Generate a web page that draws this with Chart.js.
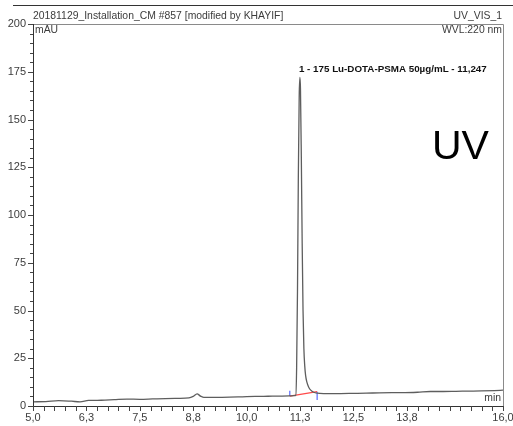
<!DOCTYPE html>
<html>
<head>
<meta charset="utf-8">
<script src="https://cdn.jsdelivr.net/npm/chart.js@4.4.1/dist/chart.umd.min.js"></script>
<style>
  html, body { margin: 0; padding: 0; background: #fff; }
  #wrap { width: 513px; height: 426px; position: relative; }
</style>
</head>
<body>
<div id="wrap"><canvas id="chrom"></canvas></div>
<script>
// Chromatogram trace: retention time (min) vs absorbance (mAU)
const times = [
  5.0, 5.3, 5.6, 5.9, 6.1, 6.3, 6.6, 6.9, 7.2, 7.5, 7.8, 8.1, 8.4, 8.65, 8.75, 8.84, 8.92, 9.0,
  9.3, 9.6, 9.9, 10.2, 10.5, 10.8, 11.0, 11.1, 11.15, 11.17, 11.19, 11.21, 11.23, 11.247, 11.26,
  11.28, 11.30, 11.32, 11.34, 11.36, 11.38, 11.41, 11.45, 11.50, 11.57, 11.65, 11.8, 12.0, 12.2,
  12.5, 12.8, 13.1, 13.4, 13.7, 14.0, 14.3, 14.6, 14.9, 15.2, 15.5, 15.8, 16.0
];
const signal = [
  2.2, 2.3, 2.8, 2.5, 2.2, 2.9, 3.0, 3.3, 3.6, 3.5, 3.7, 3.9, 4.0, 4.2, 5.0, 6.3, 5.2, 4.5,
  4.5, 4.6, 4.8, 5.0, 5.1, 5.2, 5.3, 5.4, 5.6, 20, 60, 120, 162, 172, 166,
  130, 85, 50, 30, 21, 16, 12.5, 10, 8.3, 7.2, 6.7, 6.5, 6.5, 6.5,
  6.6, 6.7, 6.9, 7.0, 7.0, 7.2, 7.6, 7.6, 7.7, 7.8, 7.9, 8.1, 8.3
];

// Peak annotation
const peakName = '1 - 175 Lu-DOTA-PSMA 50µg/mL';
const peakTime = 11.247;
const peakHeight = 172;

// Integration baseline and its start / end markers
const baseTimes = [11.01, 11.65];
const baseValues = [5.2, 7.5];
const startMark = [8.0, 5.2];
const endMark = [7.5, 3.1];

// Axis ticks
const xMin = 5.0, xMax = 16.0, yMin = 0, yMax = 200;
const xLabelValues = [5.0, 6.25, 7.5, 8.75, 10.0, 11.25, 12.5, 13.75, 16.0];
const xTickLabels = ['5,0', '6,3', '7,5', '8,8', '10,0', '11,3', '12,5', '13,8', '16,0'];
const xMinorStep = 0.25;
const yTickValues = [0, 25, 50, 75, 100, 125, 150, 175, 200];
const yMinorStep = 5;

const FONT = '"Liberation Sans", Arial, sans-serif';
const TEXT = '#3c3c3c';

const toXY = (xs, ys) => xs.map((x, i) => ({ x: x, y: ys[i] }));

const overlay = {
  id: 'overlay',
  afterDatasetsDraw(chart) {
    const { ctx, chartArea: a, scales: { x, y } } = chart;
    ctx.save();
    // frame
    ctx.strokeStyle = '#8a8a8a';
    ctx.lineWidth = 1;
    ctx.beginPath();
    ctx.moveTo(a.left, a.top + 0.5); ctx.lineTo(a.right + 0.5, a.top + 0.5);
    ctx.lineTo(a.right + 0.5, a.bottom);
    ctx.stroke();
    ctx.strokeStyle = '#333';
    ctx.beginPath();
    ctx.moveTo(a.left + 0.5, a.top); ctx.lineTo(a.left + 0.5, a.bottom + 0.5);
    ctx.lineTo(a.right + 1, a.bottom + 0.5);
    ctx.stroke();
    // header rule
    ctx.strokeStyle = '#333';
    ctx.beginPath();
    ctx.moveTo(13, 5.5); ctx.lineTo(513, 5.5);
    ctx.stroke();

    // tick marks
    ctx.strokeStyle = '#444';
    ctx.beginPath();
    for (let v = xMin; v <= xMax + 1e-9; v += xMinorStep) {
      const px = Math.round(x.getPixelForValue(v)) + 0.5;
      ctx.moveTo(px, a.bottom); ctx.lineTo(px, a.bottom + 5);
    }
    for (let v = yMin; v <= yMax + 1e-9; v += yMinorStep) {
      const py = Math.round(y.getPixelForValue(v)) + 0.5;
      const major = yTickValues.includes(v);
      ctx.moveTo(a.left, py); ctx.lineTo(a.left - (major ? 5 : 3), py);
    }
    ctx.stroke();

    // header texts
    ctx.fillStyle = TEXT;
    ctx.font = '10.4px ' + FONT;
    ctx.textBaseline = 'middle';
    ctx.textAlign = 'left';
    ctx.fillText('20181129_Installation_CM #857 [modified by KHAYIF]', a.left, 16.5);
    ctx.fillText('mAU', a.left + 2, 30.5);
    ctx.textAlign = 'right';
    ctx.fillText('UV_VIS_1', a.right - 1, 16.5);
    ctx.fillText('WVL:220 nm', a.right - 1, 30.5);
    ctx.fillText('min', a.right - 2, a.bottom - 7.5);

    // peak label
    ctx.fillStyle = '#111';
    ctx.font = 'bold 9.8px ' + FONT;
    ctx.textAlign = 'left';
    const label = peakName + ' - ' + peakTime.toFixed(3).replace('.', ',');
    ctx.fillText(label, x.getPixelForValue(peakTime) - 1, y.getPixelForValue(peakHeight) - 8);

    // large channel caption
    ctx.fillStyle = '#000';
    ctx.font = '41px ' + FONT;
    ctx.textAlign = 'left';
    ctx.textBaseline = 'alphabetic';
    ctx.fillText('UV', 432, 158.5);
    ctx.restore();
  }
};

const noPad = s => { s.paddingLeft = 0; s.paddingRight = 0; s.paddingTop = 0; s.paddingBottom = 0; };

new Chart(document.getElementById('chrom'), {
  type: 'line',
  data: {
    datasets: [
      {
        data: toXY(times, signal),
        borderColor: '#5e5e5e',
        borderWidth: 1.3,
        pointRadius: 0,
        cubicInterpolationMode: 'monotone'
      },
      {
        data: toXY(baseTimes, baseValues),
        borderColor: '#ff4a4a',
        borderWidth: 1.2,
        pointRadius: 0
      },
      {
        data: toXY([baseTimes[0], baseTimes[0]], startMark),
        borderColor: '#5b6cff',
        borderWidth: 1.2,
        pointRadius: 0
      },
      {
        data: toXY([baseTimes[1], baseTimes[1]], endMark),
        borderColor: '#5b6cff',
        borderWidth: 1.2,
        pointRadius: 0
      }
    ]
  },
  options: {
    responsive: true,
    maintainAspectRatio: false,
    animation: false,
    events: [],
    layout: { padding: { top: 24, right: 10, left: 0, bottom: 0 } },
    plugins: { legend: { display: false }, tooltip: { enabled: false } },
    scales: {
      x: {
        type: 'linear',
        min: xMin,
        max: xMax,
        grid: { display: false, drawTicks: false },
        border: { display: false },
        afterBuildTicks: s => { s.ticks = xLabelValues.map(v => ({ value: v })); },
        afterFit: s => { s.height = 20; noPad(s); },
        ticks: {
          autoSkip: false,
          maxRotation: 0,
          padding: 5,
          color: TEXT,
          font: { family: FONT, size: 11 },
          callback: v => xTickLabels[xLabelValues.indexOf(v)]
        }
      },
      y: {
        min: yMin,
        max: yMax,
        grid: { display: false, drawTicks: false },
        border: { display: false },
        afterBuildTicks: s => { s.ticks = yTickValues.map(v => ({ value: v })); },
        afterFit: s => { s.width = 33; noPad(s); },
        ticks: {
          autoSkip: false,
          padding: 7,
          color: TEXT,
          font: { family: FONT, size: 11 },
          callback: v => String(v)
        }
      }
    }
  },
  plugins: [overlay]
});
</script>
</body>
</html>
